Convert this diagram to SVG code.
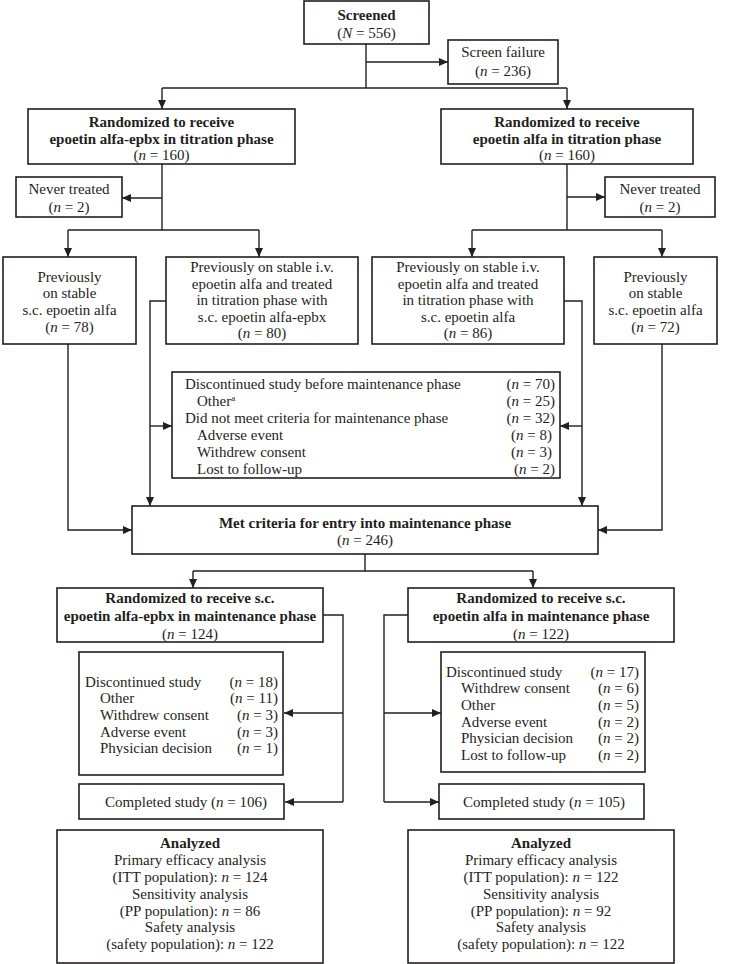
<svg xmlns="http://www.w3.org/2000/svg" width="731" height="964" viewBox="0 0 731 964">
<defs>
<marker id="ah" markerWidth="9" markerHeight="8" refX="9" refY="4" orient="auto" markerUnits="userSpaceOnUse">
<path d="M0,0 L9,4 L0,8 z" fill="#231f20"/>
</marker>
<style>
rect{fill:#fff;stroke:#231f20;stroke-width:1.6}
text{font-family:"Liberation Serif","Times New Roman",serif;font-size:15px;fill:#231f20}
.c{text-anchor:middle}
.r{text-anchor:end}
.b{font-weight:bold}
.i{font-style:italic}
#connectors path{fill:none;stroke:#231f20;stroke-width:1.4}
.a{marker-end:url(#ah)}
</style>
</defs>
<rect x="0" y="0" width="731" height="964" style="stroke:none"/>
<g id="connectors">
<path d="M366,44 V88"/>
<path class="a" d="M366,62 H448"/>
<path d="M162,88 H567"/>
<path class="a" d="M162,88 V109"/>
<path class="a" d="M567,88 V109"/>
<path d="M162,164 V230"/>
<path class="a" d="M162,198 H122"/>
<path d="M68,230 H259"/>
<path class="a" d="M68,230 V257"/>
<path class="a" d="M259,230 V257"/>
<path d="M567,164 V230"/>
<path class="a" d="M567,197 H605"/>
<path d="M472,230 H662"/>
<path class="a" d="M472,230 V257"/>
<path class="a" d="M662,230 V257"/>
<path class="a" d="M68,344 V530 H132"/>
<path class="a" d="M166,301 H150 V506"/>
<path class="a" d="M150,426 H172"/>
<path class="a" d="M564,301 H582 V506"/>
<path class="a" d="M582,426 H560"/>
<path class="a" d="M662,344 V530 H598"/>
<path d="M365,554 V571 H193"/>
<path d="M365,571 H533"/>
<path class="a" d="M193,571 V588"/>
<path class="a" d="M533,571 V588"/>
<path d="M323,615 H343 V802"/>
<path class="a" d="M343,713 H284"/>
<path class="a" d="M343,802 H285"/>
<path d="M408,615 H384 V802"/>
<path class="a" d="M384,713 H441"/>
<path class="a" d="M384,802 H439"/>
</g>
<g id="screened">
<rect x="304" y="1" width="125" height="43"/>
<text class="c b" x="366.5" y="20">Screened</text>
<text class="c" x="366.5" y="38">(<tspan class="i">N</tspan> = 556)</text>
</g>
<g id="screen-failure">
<rect x="448" y="40" width="110" height="44"/>
<text class="c" x="503" y="57">Screen failure</text>
<text class="c" x="503" y="76">(<tspan class="i">n</tspan> = 236)</text>
</g>
<g id="rand-epbx-titration">
<rect x="28" y="109" width="267" height="55"/>
<text class="c b" x="161.5" y="127">Randomized to receive</text>
<text class="c b" x="161.5" y="144">epoetin alfa-epbx in titration phase</text>
<text class="c" x="161.5" y="160">(<tspan class="i">n</tspan> = 160)</text>
</g>
<g id="rand-alfa-titration">
<rect x="441" y="109" width="252" height="55"/>
<text class="c b" x="567" y="127">Randomized to receive</text>
<text class="c b" x="567" y="144">epoetin alfa in titration phase</text>
<text class="c" x="567" y="160">(<tspan class="i">n</tspan> = 160)</text>
</g>
<g id="never-treated-left">
<rect x="16" y="177" width="106" height="40"/>
<text class="c" x="69" y="194">Never treated</text>
<text class="c" x="69" y="212">(<tspan class="i">n</tspan> = 2)</text>
</g>
<g id="never-treated-right">
<rect x="605" y="177" width="110" height="40"/>
<text class="c" x="660" y="194">Never treated</text>
<text class="c" x="660" y="212">(<tspan class="i">n</tspan> = 2)</text>
</g>
<g id="prev-sc-left">
<rect x="3" y="257" width="133" height="87"/>
<text class="c" x="69.5" y="282">Previously</text>
<text class="c" x="69.5" y="298">on stable</text>
<text class="c" x="69.5" y="315">s.c. epoetin alfa</text>
<text class="c" x="69.5" y="332">(<tspan class="i">n</tspan> = 78)</text>
</g>
<g id="prev-iv-epbx">
<rect x="166" y="257" width="192" height="87"/>
<text class="c" x="262" y="272">Previously on stable i.v.</text>
<text class="c" x="262" y="289">epoetin alfa and treated</text>
<text class="c" x="262" y="305">in titration phase with</text>
<text class="c" x="262" y="322">s.c. epoetin alfa-epbx</text>
<text class="c" x="262" y="338">(<tspan class="i">n</tspan> = 80)</text>
</g>
<g id="prev-iv-alfa">
<rect x="372" y="257" width="192" height="87"/>
<text class="c" x="468" y="272">Previously on stable i.v.</text>
<text class="c" x="468" y="289">epoetin alfa and treated</text>
<text class="c" x="468" y="305">in titration phase with</text>
<text class="c" x="468" y="322">s.c. epoetin alfa</text>
<text class="c" x="468" y="338">(<tspan class="i">n</tspan> = 86)</text>
</g>
<g id="prev-sc-right">
<rect x="594" y="257" width="123" height="87"/>
<text class="c" x="655.5" y="282">Previously</text>
<text class="c" x="655.5" y="298">on stable</text>
<text class="c" x="655.5" y="315">s.c. epoetin alfa</text>
<text class="c" x="655.5" y="332">(<tspan class="i">n</tspan> = 72)</text>
</g>
<g id="discontinued-before-maintenance">
<rect x="172" y="372" width="388" height="106"/>
<text x="185" y="389">Discontinued study before maintenance phase</text>
<text x="197" y="406">Other<tspan font-size="9" baseline-shift="super">a</tspan></text>
<text x="185" y="423">Did not meet criteria for maintenance phase</text>
<text x="197" y="440">Adverse event</text>
<text x="197" y="457">Withdrew consent</text>
<text x="197" y="474">Lost to follow-up</text>
<text class="r" x="555" y="389">(<tspan class="i">n</tspan> = 70)</text>
<text class="r" x="555" y="406">(<tspan class="i">n</tspan> = 25)</text>
<text class="r" x="555" y="423">(<tspan class="i">n</tspan> = 32)</text>
<text class="r" x="552" y="440">(<tspan class="i">n</tspan> = 8)</text>
<text class="r" x="552" y="457">(<tspan class="i">n</tspan> = 3)</text>
<text class="r" x="555" y="474">(<tspan class="i">n</tspan> = 2)</text>
</g>
<g id="met-criteria">
<rect x="132" y="506" width="466" height="48"/>
<text class="c b" x="365" y="528">Met criteria for entry into maintenance phase</text>
<text class="c" x="365" y="545">(<tspan class="i">n</tspan> = 246)</text>
</g>
<g id="rand-epbx-maintenance">
<rect x="57" y="588" width="266" height="54"/>
<text class="c b" x="190" y="603">Randomized to receive s.c.</text>
<text class="c b" x="190" y="621">epoetin alfa-epbx in maintenance phase</text>
<text class="c" x="190" y="639">(<tspan class="i">n</tspan> = 124)</text>
</g>
<g id="rand-alfa-maintenance">
<rect x="408" y="588" width="266" height="54"/>
<text class="c b" x="541" y="603">Randomized to receive s.c.</text>
<text class="c b" x="541" y="621">epoetin alfa in maintenance phase</text>
<text class="c" x="541" y="639">(<tspan class="i">n</tspan> = 122)</text>
</g>
<g id="discontinued-epbx">
<rect x="79" y="652" width="204" height="123"/>
<text x="85" y="687">Discontinued study</text>
<text x="100" y="703">Other</text>
<text x="100" y="720">Withdrew consent</text>
<text x="100" y="737">Adverse event</text>
<text x="100" y="753">Physician decision</text>
<text class="r" x="278" y="687">(<tspan class="i">n</tspan> = 18)</text>
<text class="r" x="278" y="703">(<tspan class="i">n</tspan> = 11)</text>
<text class="r" x="278" y="720">(<tspan class="i">n</tspan> = 3)</text>
<text class="r" x="278" y="737">(<tspan class="i">n</tspan> = 3)</text>
<text class="r" x="278" y="753">(<tspan class="i">n</tspan> = 1)</text>
</g>
<g id="discontinued-alfa">
<rect x="441" y="652" width="204" height="120"/>
<text x="446" y="677">Discontinued study</text>
<text x="461" y="693">Withdrew consent</text>
<text x="461" y="710">Other</text>
<text x="461" y="727">Adverse event</text>
<text x="461" y="743">Physician decision</text>
<text x="461" y="760">Lost to follow-up</text>
<text class="r" x="639" y="677">(<tspan class="i">n</tspan> = 17)</text>
<text class="r" x="639" y="693">(<tspan class="i">n</tspan> = 6)</text>
<text class="r" x="639" y="710">(<tspan class="i">n</tspan> = 5)</text>
<text class="r" x="639" y="727">(<tspan class="i">n</tspan> = 2)</text>
<text class="r" x="639" y="743">(<tspan class="i">n</tspan> = 2)</text>
<text class="r" x="639" y="760">(<tspan class="i">n</tspan> = 2)</text>
</g>
<g id="completed-epbx">
<rect x="79" y="784" width="205" height="35"/>
<text class="c" x="186" y="807">Completed study (<tspan class="i">n</tspan> = 106)</text>
</g>
<g id="completed-alfa">
<rect x="439" y="784" width="205" height="35"/>
<text class="c" x="544" y="807">Completed study (<tspan class="i">n</tspan> = 105)</text>
</g>
<g id="analyzed-epbx">
<rect x="57" y="830" width="266" height="133"/>
<text class="c b" x="190" y="848">Analyzed</text>
<text class="c" x="190" y="865">Primary efficacy analysis</text>
<text class="c" x="190" y="882">(ITT population): <tspan class="i">n</tspan> = 124</text>
<text class="c" x="190" y="899">Sensitivity analysis</text>
<text class="c" x="190" y="916">(PP population): <tspan class="i">n</tspan> = 86</text>
<text class="c" x="190" y="932">Safety analysis</text>
<text class="c" x="190" y="949">(safety population): <tspan class="i">n</tspan> = 122</text>
</g>
<g id="analyzed-alfa">
<rect x="408" y="830" width="266" height="133"/>
<text class="c b" x="541" y="848">Analyzed</text>
<text class="c" x="541" y="865">Primary efficacy analysis</text>
<text class="c" x="541" y="882">(ITT population): <tspan class="i">n</tspan> = 122</text>
<text class="c" x="541" y="899">Sensitivity analysis</text>
<text class="c" x="541" y="916">(PP population): <tspan class="i">n</tspan> = 92</text>
<text class="c" x="541" y="932">Safety analysis</text>
<text class="c" x="541" y="949">(safety population): <tspan class="i">n</tspan> = 122</text>
</g>
</svg>
